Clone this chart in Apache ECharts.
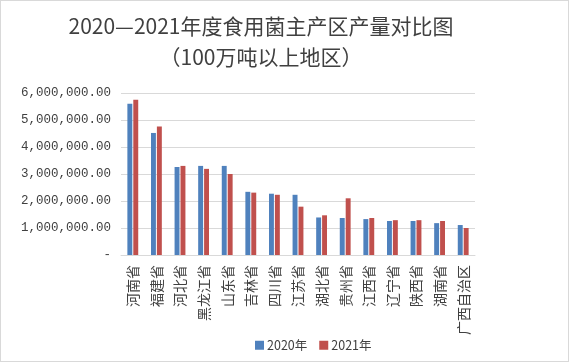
<!DOCTYPE html>
<html>
<head>
<meta charset="utf-8">
<script src="https://cdn.jsdelivr.net/npm/echarts@6/dist/echarts.min.js"></script>
<style>
html,body{margin:0;padding:0;background:#fff;}
#chart{width:567px;height:360px;border:1px solid #d9d9d9;}
</style>
</head>
<body>
<div id="chart"></div>
<script>
const categories = ['河南省','福建省','河北省','黑龙江省','山东省','吉林省','四川省','江苏省','湖北省','贵州省','江西省','辽宁省','陕西省','湖南省','广西自治区'];
const seriesNames = ['2020年','2021年'];
const values2020 = [5600000,4520000,3260000,3300000,3300000,2340000,2270000,2230000,1390000,1370000,1330000,1260000,1260000,1180000,1110000];
const values2021 = [5750000,4760000,3300000,3190000,3000000,2310000,2230000,1790000,1470000,2100000,1370000,1290000,1290000,1260000,1000000];
const yMax = 6000000;
const yInterval = 1000000;

function fmt(v){
  if (v === 0) return '-';
  return v.toLocaleString('en-US',{minimumFractionDigits:2,maximumFractionDigits:2});
}

const chart = echarts.init(document.getElementById('chart'), null, {renderer:'canvas'});
chart.setOption({
  animation:false,
  title:{
    text:'2020—2021年度食用菌主产区产量对比图\n（100万吨以上地区）',
    left:255,
    textAlign:'center',
    top:5,
    textStyle:{fontFamily:'"Noto Sans CJK SC"',fontSize:21,fontWeight:'normal',color:'#404040',lineHeight:31}
  },
  legend:{
    data:seriesNames,
    left:249,
    top:333,
    itemWidth:9,
    itemHeight:9,
    itemGap:12,
    icon:'rect',
    textStyle:{fontFamily:'"Noto Sans CJK SC"',fontSize:12.5,color:'#404040',padding:[0,0,0,-2]}
  },
  grid:{left:120,right:93,top:92,bottom:106,containLabel:false},
  xAxis:{
    type:'category',
    data:categories,
    axisLine:{lineStyle:{color:'#d9d9d9',width:1}},
    axisTick:{show:false},
    axisLabel:{rotate:90,interval:0,margin:10,fontFamily:'"Noto Sans CJK SC"',fontSize:14,color:'#404040'}
  },
  yAxis:{
    type:'value',
    min:0,max:yMax,interval:yInterval,
    axisLine:{show:false},
    axisTick:{show:false},
    splitLine:{lineStyle:{color:'#d9d9d9',width:1}},
    axisLabel:{margin:10,fontFamily:'"Liberation Mono"',fontSize:12.5,color:'#404040',formatter:fmt}
  },
  series:[
    {name:seriesNames[0],type:'bar',data:values2020,barGap:'20%',barCategoryGap:'54%',itemStyle:{color:'#4f81bd'}},
    {name:seriesNames[1],type:'bar',data:values2021,barGap:'20%',barCategoryGap:'54%',itemStyle:{color:'#c0504d'}}
  ]
});
</script>
</body>
</html>
